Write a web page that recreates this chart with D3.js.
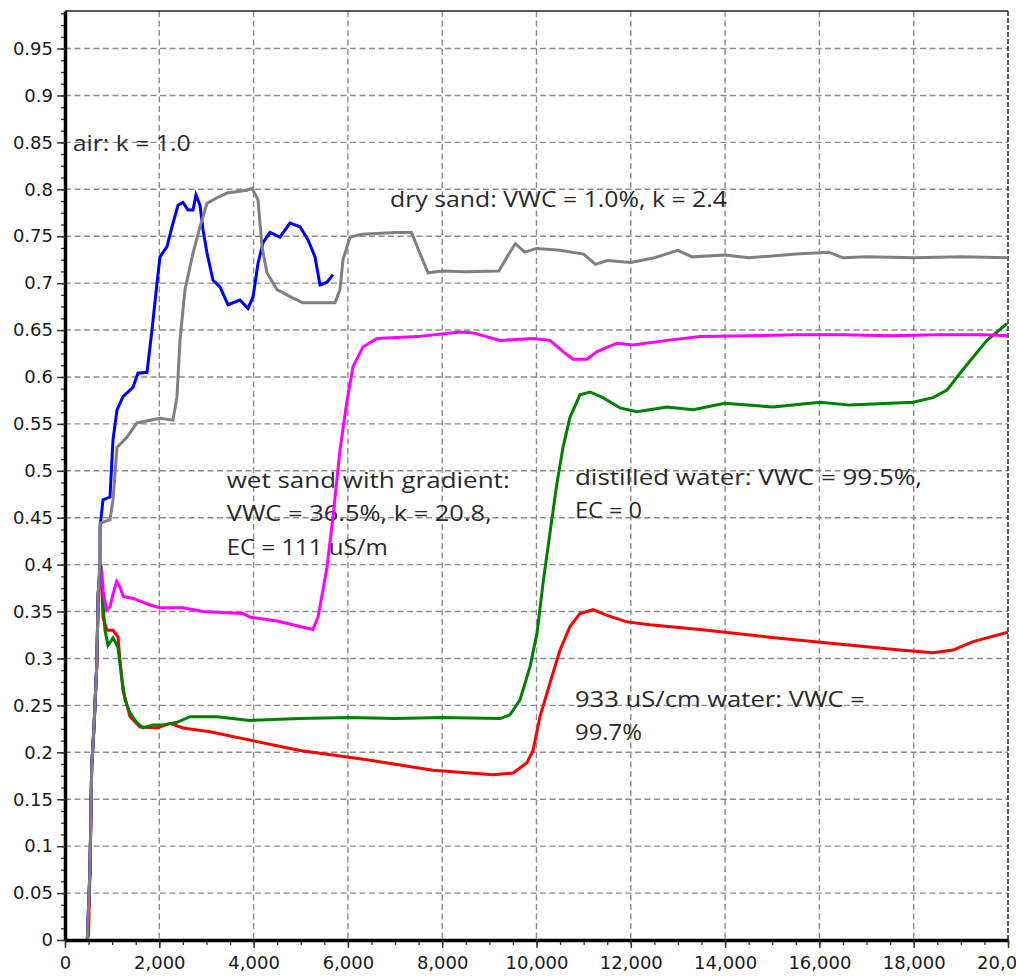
<!DOCTYPE html>
<html><head><meta charset="utf-8">
<script src="https://cdn.jsdelivr.net/npm/d3@7"></script>
<style>
html,body{margin:0;padding:0;background:#fff;}
svg{display:block;}
</style></head>
<body><div id="chart"></div>
<script>
// ---------------- DATA ----------------
const xTickValues = [0,2000,4000,6000,8000,10000,12000,14000,16000,18000,20000];
const yTickValues = [0,0.05,0.1,0.15,0.2,0.25,0.3,0.35,0.4,0.45,0.5,0.55,0.6,0.65,0.7,0.75,0.8,0.85,0.9,0.95];

// dry sand (gray)
const drySand = [[473,0],[530,0.075],[566,0.184],[615,0.227],[672,0.291],[706,0.37],[742,0.405],[745,0.444],[954,0.448],[1018,0.469],[1103,0.525],[1315,0.536],[1527,0.551],[2015,0.556],[2290,0.554],[2375,0.579],[2439,0.639],[2545,0.693],[2715,0.732],[2863,0.760],[3012,0.785],[3224,0.791],[3436,0.796],[3860,0.799],[3966,0.801],[4093,0.789],[4178,0.739],[4284,0.711],[4496,0.693],[4836,0.684],[5048,0.679],[5726,0.679],[5832,0.693],[5896,0.725],[6045,0.749],[6300,0.752],[7000,0.754],[7350,0.754],[7500,0.735],[7700,0.711],[8000,0.713],[8500,0.712],[9200,0.713],[9400,0.730],[9550,0.742],[9750,0.733],[10000,0.737],[10500,0.735],[11000,0.731],[11250,0.72],[11500,0.724],[12000,0.722],[12500,0.727],[13000,0.735],[13300,0.728],[14000,0.730],[14500,0.727],[15000,0.729],[15500,0.731],[16200,0.733],[16500,0.727],[17000,0.728],[18000,0.727],[19000,0.728],[20000,0.727]];

// air (blue)
const air = [[473,0],[530,0.075],[566,0.184],[615,0.227],[672,0.291],[706,0.37],[742,0.40],[744,0.440],[806,0.469],[954,0.472],[1018,0.533],[1103,0.565],[1230,0.579],[1442,0.589],[1548,0.604],[1739,0.605],[1845,0.650],[1951,0.700],[2015,0.728],[2163,0.739],[2269,0.760],[2397,0.783],[2503,0.786],[2609,0.778],[2715,0.778],[2778,0.794],[2863,0.783],[2927,0.757],[3012,0.732],[3139,0.703],[3287,0.696],[3457,0.677],[3711,0.682],[3881,0.673],[3987,0.685],[4093,0.721],[4199,0.743],[4348,0.754],[4560,0.749],[4772,0.764],[4984,0.760],[5154,0.746],[5302,0.728],[5408,0.698],[5557,0.701],[5684,0.709]];

// wet sand with gradient (magenta)
const wetSand = [[473,0],[530,0.075],[566,0.184],[615,0.227],[672,0.291],[706,0.37],[778,0.394],[813,0.37],[884,0.352],[954,0.355],[1025,0.37],[1096,0.382],[1166,0.376],[1237,0.366],[1442,0.364],[1803,0.357],[2015,0.354],[2503,0.354],[2927,0.35],[3775,0.348],[3924,0.344],[4500,0.34],[4984,0.334],[5260,0.331],[5366,0.344],[5557,0.397],[5684,0.451],[5832,0.522],[5981,0.575],[6108,0.611],[6320,0.632],[6617,0.641],[7466,0.643],[8378,0.648],[8654,0.647],[9226,0.639],[9926,0.641],[10286,0.639],[10562,0.627],[10774,0.619],[11071,0.619],[11283,0.627],[11707,0.636],[12046,0.634],[12768,0.639],[13468,0.643],[14528,0.644],[15500,0.645],[16500,0.645],[17500,0.644],[18500,0.645],[19500,0.645],[20000,0.644]];

// distilled water (green)
const distilledWater = [[473,0],[530,0.075],[566,0.184],[615,0.227],[672,0.291],[706,0.37],[757,0.40],[778,0.38],[806,0.359],[848,0.33],[912,0.314],[1018,0.322],[1124,0.312],[1202,0.28],[1273,0.256],[1379,0.242],[1520,0.232],[1654,0.226],[1866,0.229],[2078,0.229],[2375,0.232],[2651,0.238],[3224,0.238],[3924,0.234],[4984,0.236],[6000,0.237],[7000,0.236],[8000,0.237],[9226,0.236],[9438,0.24],[9650,0.256],[9862,0.291],[10011,0.327],[10138,0.38],[10286,0.434],[10435,0.487],[10562,0.525],[10710,0.557],[10922,0.581],[11135,0.584],[11410,0.578],[11771,0.567],[12131,0.563],[12768,0.568],[13319,0.565],[13998,0.572],[15016,0.568],[16013,0.573],[16649,0.570],[17985,0.573],[18409,0.578],[18706,0.586],[18982,0.604],[19258,0.621],[19555,0.639],[19979,0.657]];

// 933 uS/cm water (red)
const salineWater = [[460,0],[500,0.005],[530,0.075],[566,0.184],[615,0.227],[672,0.291],[706,0.37],[757,0.40],[778,0.38],[806,0.344],[891,0.33],[1018,0.33],[1124,0.323],[1166,0.298],[1230,0.266],[1379,0.238],[1591,0.227],[1951,0.226],[2227,0.231],[2503,0.226],[3075,0.222],[3924,0.213],[4984,0.202],[6405,0.192],[7805,0.181],[9077,0.176],[9502,0.178],[9798,0.189],[9926,0.202],[10074,0.238],[10286,0.274],[10499,0.309],[10710,0.334],[10922,0.348],[11198,0.352],[11495,0.346],[11919,0.339],[12407,0.336],[13468,0.331],[14889,0.323],[16289,0.316],[17709,0.309],[18409,0.306],[18833,0.309],[19258,0.318],[20000,0.328]];

// annotation texts
const annotationTexts = [
  ["air: k = 1.0"],
  ["dry sand: VWC = 1.0%, k = 2.4"],
  ["wet sand with gradient:", "VWC = 36.5%, k = 20.8,", "EC = 111 uS/m"],
  ["distilled water: VWC = 99.5%,", "EC = 0"],
  ["933 uS/cm water: VWC =", "99.7%"]
];

// ---------------- LAYOUT / STYLE ----------------
const W = 1016, H = 977;
const plot = {left: 65, right: 1008, top: 11, bottom: 940};
// anchor of each annotation in data coords + rendered widths per line
const annotationLayout = [
  {x: 163,   y: 0.841,  widths: [118]},
  {x: 6893,  y: 0.781,  widths: [337]},
  {x: 3430,  y: 0.4817, widths: [283, 265, 161]},
  {x: 10816, y: 0.4849, widths: [347, 67]},
  {x: 10816, y: 0.2486, widths: [290, 67]}
];
const lineGap = 33.5;

const seriesList = [
  {data: salineWater,    color: "#ff0000"},
  {data: distilledWater, color: "#008000"},
  {data: wetSand,        color: "#ff00ff"},
  {data: air,            color: "#0000ff"},
  {data: drySand,        color: "#808080"}
];

const svg = d3.select("#chart").append("svg").attr("width", W).attr("height", H);

const x = d3.scaleLinear().domain([0, 20000]).range([plot.left, plot.right]);
const y = d3.scaleLinear().domain([0, 0.99]).range([plot.bottom, plot.top]);

// gridlines
const grid = svg.append("g");
grid.selectAll("line.h").data(yTickValues.filter(v => v > 0)).join("line")
  .attr("x1", plot.left).attr("x2", plot.right)
  .attr("y1", d => y(d)).attr("y2", d => y(d))
  .attr("stroke", "#8c8c8c").attr("stroke-width", 1.4).attr("stroke-dasharray", "6,3.5");
grid.selectAll("line.v").data(xTickValues.filter(v => v > 0 && v < 20000)).join("line")
  .attr("x1", d => x(d)).attr("x2", d => x(d))
  .attr("y1", plot.top).attr("y2", plot.bottom)
  .attr("stroke", "#8c8c8c").attr("stroke-width", 1.4).attr("stroke-dasharray", "6,3.5");
// right border (dashed, darker)
grid.append("line").attr("x1", x(20000)).attr("x2", x(20000)).attr("y1", plot.top).attr("y2", plot.bottom)
  .attr("stroke", "#333").attr("stroke-width", 1.6).attr("stroke-dasharray", "5,2");
// top border
grid.append("line").attr("x1", plot.left).attr("x2", plot.right).attr("y1", plot.top).attr("y2", plot.top)
  .attr("stroke", "#222").attr("stroke-width", 1.6);

// annotations
const ann = svg.append("g").attr("font-family", "'Open Sans', 'Noto Sans', sans-serif")
  .attr("font-size", 22).attr("fill", "#2a2a2a");
annotationTexts.forEach((lines, i) => {
  const L = annotationLayout[i];
  lines.forEach((t, j) => {
    ann.append("text")
      .attr("x", x(L.x)).attr("y", y(L.y) + j * lineGap)
      .attr("textLength", L.widths[j]).attr("lengthAdjust", "spacingAndGlyphs")
      .text(t);
  });
});

// clip
svg.append("clipPath").attr("id", "clip").append("rect")
  .attr("x", plot.left).attr("y", plot.top).attr("width", plot.right - plot.left).attr("height", plot.bottom - plot.top);

const line = d3.line().x(d => x(d[0])).y(d => y(d[1]));
const lines = svg.append("g").attr("clip-path", "url(#clip)");
seriesList.forEach(s => {
  lines.append("path").datum(s.data).attr("d", line)
    .attr("fill", "none").attr("stroke", s.color).attr("stroke-width", 3)
    .attr("stroke-linejoin", "miter").attr("stroke-linecap", "butt");
});

// axes
const fontAxis = "'DejaVu Sans', Verdana, sans-serif";
const yMinor = d3.range(0, 0.99, 0.0125);
const xMinor = d3.range(0, 20001, 500);

const yMinorAxis = svg.append("g").attr("transform", `translate(${plot.left},0)`)
  .call(d3.axisLeft(y).tickValues(yMinor).tickSize(4).tickSizeOuter(0).tickFormat(""));
yMinorAxis.select(".domain").remove();
yMinorAxis.selectAll("line").attr("stroke", "#333").attr("stroke-width", 1.3);

const yAxis = svg.append("g").attr("transform", `translate(${plot.left},0)`)
  .call(d3.axisLeft(y).tickValues(yTickValues).tickSize(8).tickSizeOuter(0).tickPadding(4)
    .tickFormat(d => String(+d.toFixed(2))));
yAxis.select(".domain").attr("stroke", "#000").attr("stroke-width", 3.5);
yAxis.selectAll(".tick line").attr("stroke", "#333").attr("stroke-width", 1.5);
yAxis.selectAll("text").attr("font-family", fontAxis).attr("font-size", 18).attr("fill", "#1a1a1a");

const xMinorAxis = svg.append("g").attr("transform", `translate(0,${plot.bottom})`)
  .call(d3.axisBottom(x).tickValues(xMinor).tickSize(5).tickSizeOuter(0).tickFormat(""));
xMinorAxis.select(".domain").remove();
xMinorAxis.selectAll("line").attr("stroke", "#333").attr("stroke-width", 1.3);

const xAxis = svg.append("g").attr("transform", `translate(0,${plot.bottom})`)
  .call(d3.axisBottom(x).tickValues(xTickValues).tickSize(8).tickSizeOuter(0).tickPadding(8)
    .tickFormat(d3.format(",")));
xAxis.select(".domain").attr("stroke", "#000").attr("stroke-width", 3.5);
xAxis.selectAll(".tick line").attr("stroke", "#333").attr("stroke-width", 1.5);
xAxis.selectAll("text").attr("font-family", fontAxis).attr("font-size", 18).attr("fill", "#1a1a1a");
</script>
</body></html>
